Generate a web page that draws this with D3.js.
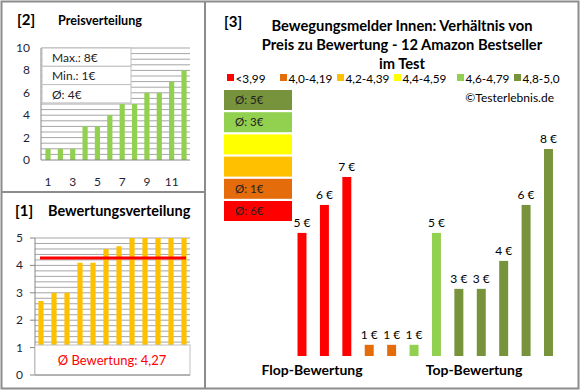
<!DOCTYPE html>
<html>
<head>
<meta charset="utf-8">
<script src="https://cdn.jsdelivr.net/npm/d3@7"></script>
<style>
  body { margin: 0; background: #fff; }
  svg text { font-family: Lato, "Open Sans", sans-serif; }
</style>
</head>
<body>
<div id="chart"></div>
<script>
// data
var priceCats = [1, 2, 3, 4, 5, 6, 7, 8, 9, 10, 11, 12];
var priceValues = [1, 1, 1, 3, 3, 4, 5, 5, 6, 6, 7, 8];
var priceTicks = [1, 3, 5, 7, 9, 11];
var priceStats = ["Max.: 8€", "Min.: 1€", "Ø: 4€"];

var ratingValues = [2.7, 3.0, 3.0, 4.1, 4.1, 4.6, 4.7, 5, 5, 5, 5, 5];
var ratingAvg = 4.27;
var ratingLabel = "Ø Bewertung: 4,27";

var mainPrices = [5, 6, 7, 1, 1, 1, 5, 3, 3, 4, 6, 8];
var mainClass = [0, 0, 0, 1, 1, 4, 4, 5, 5, 5, 5, 5];
var legendLabels = ["<3,99", "4,0-4,19", "4,2-4,39", "4,4-4,59", "4,6-4,79", "4,8-5,0"];
var legendColors = ["#FF0000", "#E46C0A", "#FFC000", "#FFFF00", "#92D050", "#77933C"];
var classAvg = ["Ø: 6€", "Ø: 1€", "", "", "Ø: 3€", "Ø: 5€"];
var titleLines = ["Bewegungsmelder Innen: Verhältnis von", "Preis zu Bewertung - 12 Amazon Bestseller", "im Test"];

var W = 580, H = 390;
var svg = d3.select("#chart").append("svg").attr("width", W).attr("height", H);

// frames
var frame = "#8c8c8c";
svg.append("rect").attr("x", 1.5).attr("y", 1.5).attr("width", 577).attr("height", 387)
  .attr("fill", "none").attr("stroke", frame).attr("stroke-width", 2);
svg.append("line").attr("x1", 205).attr("x2", 205).attr("y1", 1).attr("y2", 389)
  .attr("stroke", frame).attr("stroke-width", 2);
svg.append("line").attr("x1", 1).attr("x2", 205).attr("y1", 192).attr("y2", 192)
  .attr("stroke", frame).attr("stroke-width", 2);

var tickColor = "#1f1f3a";

// ---------- panel [2] Preisverteilung
svg.append("text").attr("x", 17).attr("y", 25).attr("font-size", 15).attr("font-weight", "bold").text("[2]");
svg.append("text").attr("x", 58).attr("y", 25).attr("font-size", 12.6).attr("font-weight", "bold").text("Preisverteilung");

var x2 = d3.scaleBand().domain(priceCats).range([41.8, 190.2]).paddingInner(0.58).paddingOuter(0.29);
var y2 = d3.scaleLinear().domain([0, 10]).range([160, 48]);

svg.append("g").selectAll("line").data(d3.range(0.5, 10.01, 0.5)).join("line")
  .attr("x1", 41).attr("x2", 190).attr("y1", d => y2(d)).attr("y2", d => y2(d))
  .attr("stroke", "#a6a6a6").attr("stroke-width", 1);

svg.append("g").selectAll("rect").data(priceValues).join("rect")
  .attr("x", (d, i) => x2(priceCats[i])).attr("width", x2.bandwidth())
  .attr("y", d => y2(d)).attr("height", d => y2(0) - y2(d)).attr("fill", "#92D050");

svg.append("line").attr("x1", 41).attr("x2", 41).attr("y1", 48).attr("y2", 160).attr("stroke", "#868686");
svg.append("line").attr("x1", 41).attr("x2", 190).attr("y1", 160).attr("y2", 160).attr("stroke", "#868686");

svg.append("g").selectAll("text").data(d3.range(0, 11, 2)).join("text")
  .attr("x", 30).attr("y", d => y2(d) + 4).attr("text-anchor", "end")
  .attr("font-size", 12).attr("fill", tickColor).text(d => d);
svg.append("g").selectAll("text").data(priceTicks).join("text")
  .attr("x", d => x2(d) + x2.bandwidth() / 2).attr("y", 186).attr("text-anchor", "middle")
  .attr("font-size", 12).attr("fill", tickColor).text(d => d);

// stats box
var statG = svg.append("g");
statG.selectAll("rect").data(priceStats).join("rect")
  .attr("x", 42).attr("y", (d, i) => 48 + i * 18.3).attr("width", 89).attr("height", 18.3)
  .attr("fill", "#fff").attr("stroke", "#c0c0c0");
statG.selectAll("text").data(priceStats).join("text")
  .attr("x", 52).attr("y", (d, i) => 62 + i * 18.3)
  .attr("font-size", 12).attr("fill", "#222").text(d => d);

// ---------- panel [1] Bewertungsverteilung
svg.append("text").attr("x", 15).attr("y", 216).attr("font-size", 15).attr("font-weight", "bold").text("[1]");
svg.append("text").attr("x", 48).attr("y", 216).attr("font-size", 14.5).attr("font-weight", "bold").text("Bewertungsverteilung");

var x1 = d3.scaleBand().domain(priceCats).range([34.5, 190.5]).paddingInner(0.6).paddingOuter(0.3);
var y1 = d3.scaleLinear().domain([0, 5]).range([375, 238]);

svg.append("g").selectAll("line").data(d3.range(0.2, 5.01, 0.2)).join("line")
  .attr("x1", 35).attr("x2", 190).attr("y1", d => y1(d)).attr("y2", d => y1(d))
  .attr("stroke", "#a6a6a6").attr("stroke-width", 1);

svg.append("g").selectAll("rect").data(ratingValues).join("rect")
  .attr("x", (d, i) => x1(priceCats[i])).attr("width", x1.bandwidth())
  .attr("y", d => y1(d)).attr("height", d => y1(0) - y1(d)).attr("fill", "#FFC000");

svg.append("line").attr("x1", 35).attr("x2", 35).attr("y1", 238).attr("y2", 375).attr("stroke", "#868686");
svg.append("g").selectAll("line").data(d3.range(0, 6)).join("line")
  .attr("x1", 30).attr("x2", 35).attr("y1", d => y1(d)).attr("y2", d => y1(d)).attr("stroke", "#868686");

svg.append("line").attr("x1", 40).attr("x2", 186).attr("y1", y1(ratingAvg)).attr("y2", y1(ratingAvg))
  .attr("stroke", "#FF0000").attr("stroke-width", 3);

svg.append("g").selectAll("text").data(d3.range(0, 6)).join("text")
  .attr("x", 23).attr("y", d => y1(d) + 4).attr("text-anchor", "end")
  .attr("font-size", 12).attr("fill", tickColor).text(d => d);

svg.append("rect").attr("x", 35).attr("y", 345).attr("width", 155).attr("height", 30)
  .attr("fill", "#fff").attr("stroke", "#c0c0c0");
svg.append("line").attr("x1", 35).attr("x2", 190).attr("y1", 375).attr("y2", 375).attr("stroke", "#868686");
svg.append("text").attr("x", 112).attr("y", 365).attr("text-anchor", "middle")
  .attr("font-size", 13).attr("fill", "#FF0000").text(ratingLabel);

// ---------- panel [3]
svg.append("text").attr("x", 224).attr("y", 27).attr("font-size", 15).attr("font-weight", "bold").text("[3]");
svg.append("g").selectAll("text").data(titleLines).join("text")
  .attr("x", 402).attr("y", (d, i) => 31 + i * 19).attr("text-anchor", "middle")
  .attr("font-size", 14.7).attr("font-weight", "bold").text(d => d);

var legX = [227, 280, 337, 394, 457, 514];
var legG = svg.append("g");
legG.selectAll("rect").data(legendLabels).join("rect")
  .attr("x", (d, i) => legX[i]).attr("y", 74).attr("width", 7).attr("height", 7)
  .attr("fill", (d, i) => legendColors[i]);
legG.selectAll("text").data(legendLabels).join("text")
  .attr("x", (d, i) => legX[i] + 8.5).attr("y", 82.5)
  .attr("font-size", 11.8).text(d => d);

svg.append("text").attr("x", 554).attr("y", 102).attr("text-anchor", "end")
  .attr("font-size", 12).text("©Testerlebnis.de");

// class average boxes (top: best class)
var boxG = svg.append("g");
var order = d3.range(5, -1, -1);
boxG.selectAll("rect").data(order).join("rect")
  .attr("x", 224).attr("y", (d, i) => 90 + i * 22.2).attr("width", 68).attr("height", 20)
  .attr("fill", d => legendColors[d]);
boxG.selectAll("text").data(order).join("text")
  .attr("x", 235).attr("y", (d, i) => 104 + i * 22.2)
  .attr("font-size", 11.5).attr("fill", "#222").text(d => classAvg[d]);

var x3 = d3.scaleBand().domain(d3.range(mainPrices.length)).range([290.8, 559.7]).paddingInner(0.6).paddingOuter(0.3);
var y3 = d3.scaleLinear().domain([0.6, 8]).range([356, 149]);

svg.append("g").selectAll("rect").data(mainPrices).join("rect")
  .attr("x", (d, i) => x3(i)).attr("width", x3.bandwidth())
  .attr("y", d => y3(d)).attr("height", d => y3(0.6) - y3(d))
  .attr("fill", (d, i) => legendColors[mainClass[i]]);
svg.append("g").selectAll("text").data(mainPrices).join("text")
  .attr("x", (d, i) => x3(i) + x3.bandwidth() / 2).attr("y", d => y3(d) - 6)
  .attr("text-anchor", "middle").attr("font-size", 12).text(d => d + " €");

svg.append("text").attr("x", 312).attr("y", 375).attr("text-anchor", "middle")
  .attr("font-size", 14).attr("font-weight", "bold").text("Flop-Bewertung");
svg.append("text").attr("x", 474).attr("y", 375).attr("text-anchor", "middle")
  .attr("font-size", 14).attr("font-weight", "bold").text("Top-Bewertung");
</script>
</body>
</html>
